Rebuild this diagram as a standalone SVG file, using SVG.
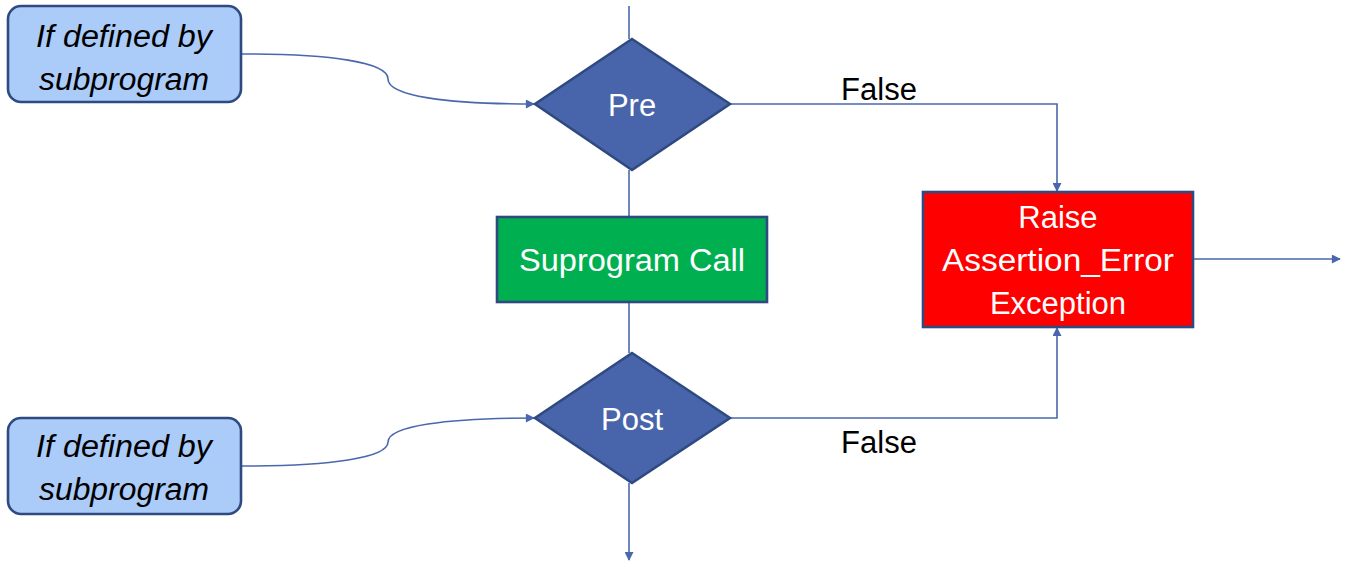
<svg xmlns="http://www.w3.org/2000/svg" width="1349" height="565" viewBox="0 0 1349 565">
<style>
.conn{fill:none;stroke:#4A67AE;stroke-width:1.6}
.src rect{fill:#ABCBF8;stroke:#2F4A80;stroke-width:2.6}
.dia polygon{fill:#4865AC;stroke:#2F4A80;stroke-width:2.6}
.proc{stroke:#2F4A80;stroke-width:2.6}
text{font-family:"Liberation Sans",Arial,sans-serif;font-size:31px;text-anchor:middle}
.it{font-style:italic;fill:#000}
.wh{fill:#fff}
.bl{fill:#000}
</style>
<defs>
<marker id="ah" viewBox="0 0 10 10" refX="9" refY="5" markerWidth="10" markerHeight="9" markerUnits="userSpaceOnUse" orient="auto">
<path d="M0,0 L10,5 L0,10 Z" fill="#4A67AE"/>
</marker>
</defs>
<g id="connectors">
<line class="conn" x1="629" y1="6" x2="629" y2="39"/>
<line class="conn" x1="629" y1="170" x2="629" y2="217"/>
<line class="conn" x1="629" y1="303" x2="629" y2="353"/>
<line class="conn" x1="629" y1="483" x2="629" y2="560" marker-end="url(#ah)"/>
<path class="conn" d="M242,54 C330,54 388,62 388,79 C388,96 446,104 534,104" marker-end="url(#ah)"/>
<path class="conn" d="M242,466 C330,466 388,458 388,442 C388,426 446,418 534,418" marker-end="url(#ah)"/>
<polyline class="conn" points="730,104 1057,104 1057,191" marker-end="url(#ah)"/>
<polyline class="conn" points="730,418 1057,418 1057,328" marker-end="url(#ah)"/>
<line class="conn" x1="1194" y1="259" x2="1340" y2="259" marker-end="url(#ah)"/>
<text class="bl" x="879" y="100">False</text>
<text class="bl" x="879" y="453">False</text>
</g>
<g id="src-pre" class="src">
<rect x="8" y="6" width="233" height="96" rx="13"/>
<text class="it" x="124" y="47" textLength="176" lengthAdjust="spacingAndGlyphs">If defined by</text>
<text class="it" x="124" y="90" textLength="170" lengthAdjust="spacingAndGlyphs">subprogram</text>
</g>
<g id="src-post" class="src">
<rect x="8" y="418" width="233" height="96" rx="13"/>
<text class="it" x="124" y="457" textLength="176" lengthAdjust="spacingAndGlyphs">If defined by</text>
<text class="it" x="124" y="500" textLength="170" lengthAdjust="spacingAndGlyphs">subprogram</text>
</g>
<g id="pre" class="dia">
<polygon points="632,39 730,104 632,170 535,104"/>
<text class="wh" x="632" y="116">Pre</text>
</g>
<g id="call">
<rect class="proc" x="497" y="217" width="270" height="85" fill="#00B050"/>
<text class="wh" x="632" y="271" textLength="226" lengthAdjust="spacingAndGlyphs">Suprogram Call</text>
</g>
<g id="post" class="dia">
<polygon points="632,353 730,418 632,483 535,418"/>
<text class="wh" x="632" y="430">Post</text>
</g>
<g id="raise">
<rect class="proc" x="923" y="192" width="270" height="135" fill="#FF0000"/>
<text class="wh" x="1058" y="228">Raise</text>
<text class="wh" x="1058" y="271" textLength="232" lengthAdjust="spacingAndGlyphs">Assertion_Error</text>
<text class="wh" x="1058" y="314">Exception</text>
</g>
</svg>
